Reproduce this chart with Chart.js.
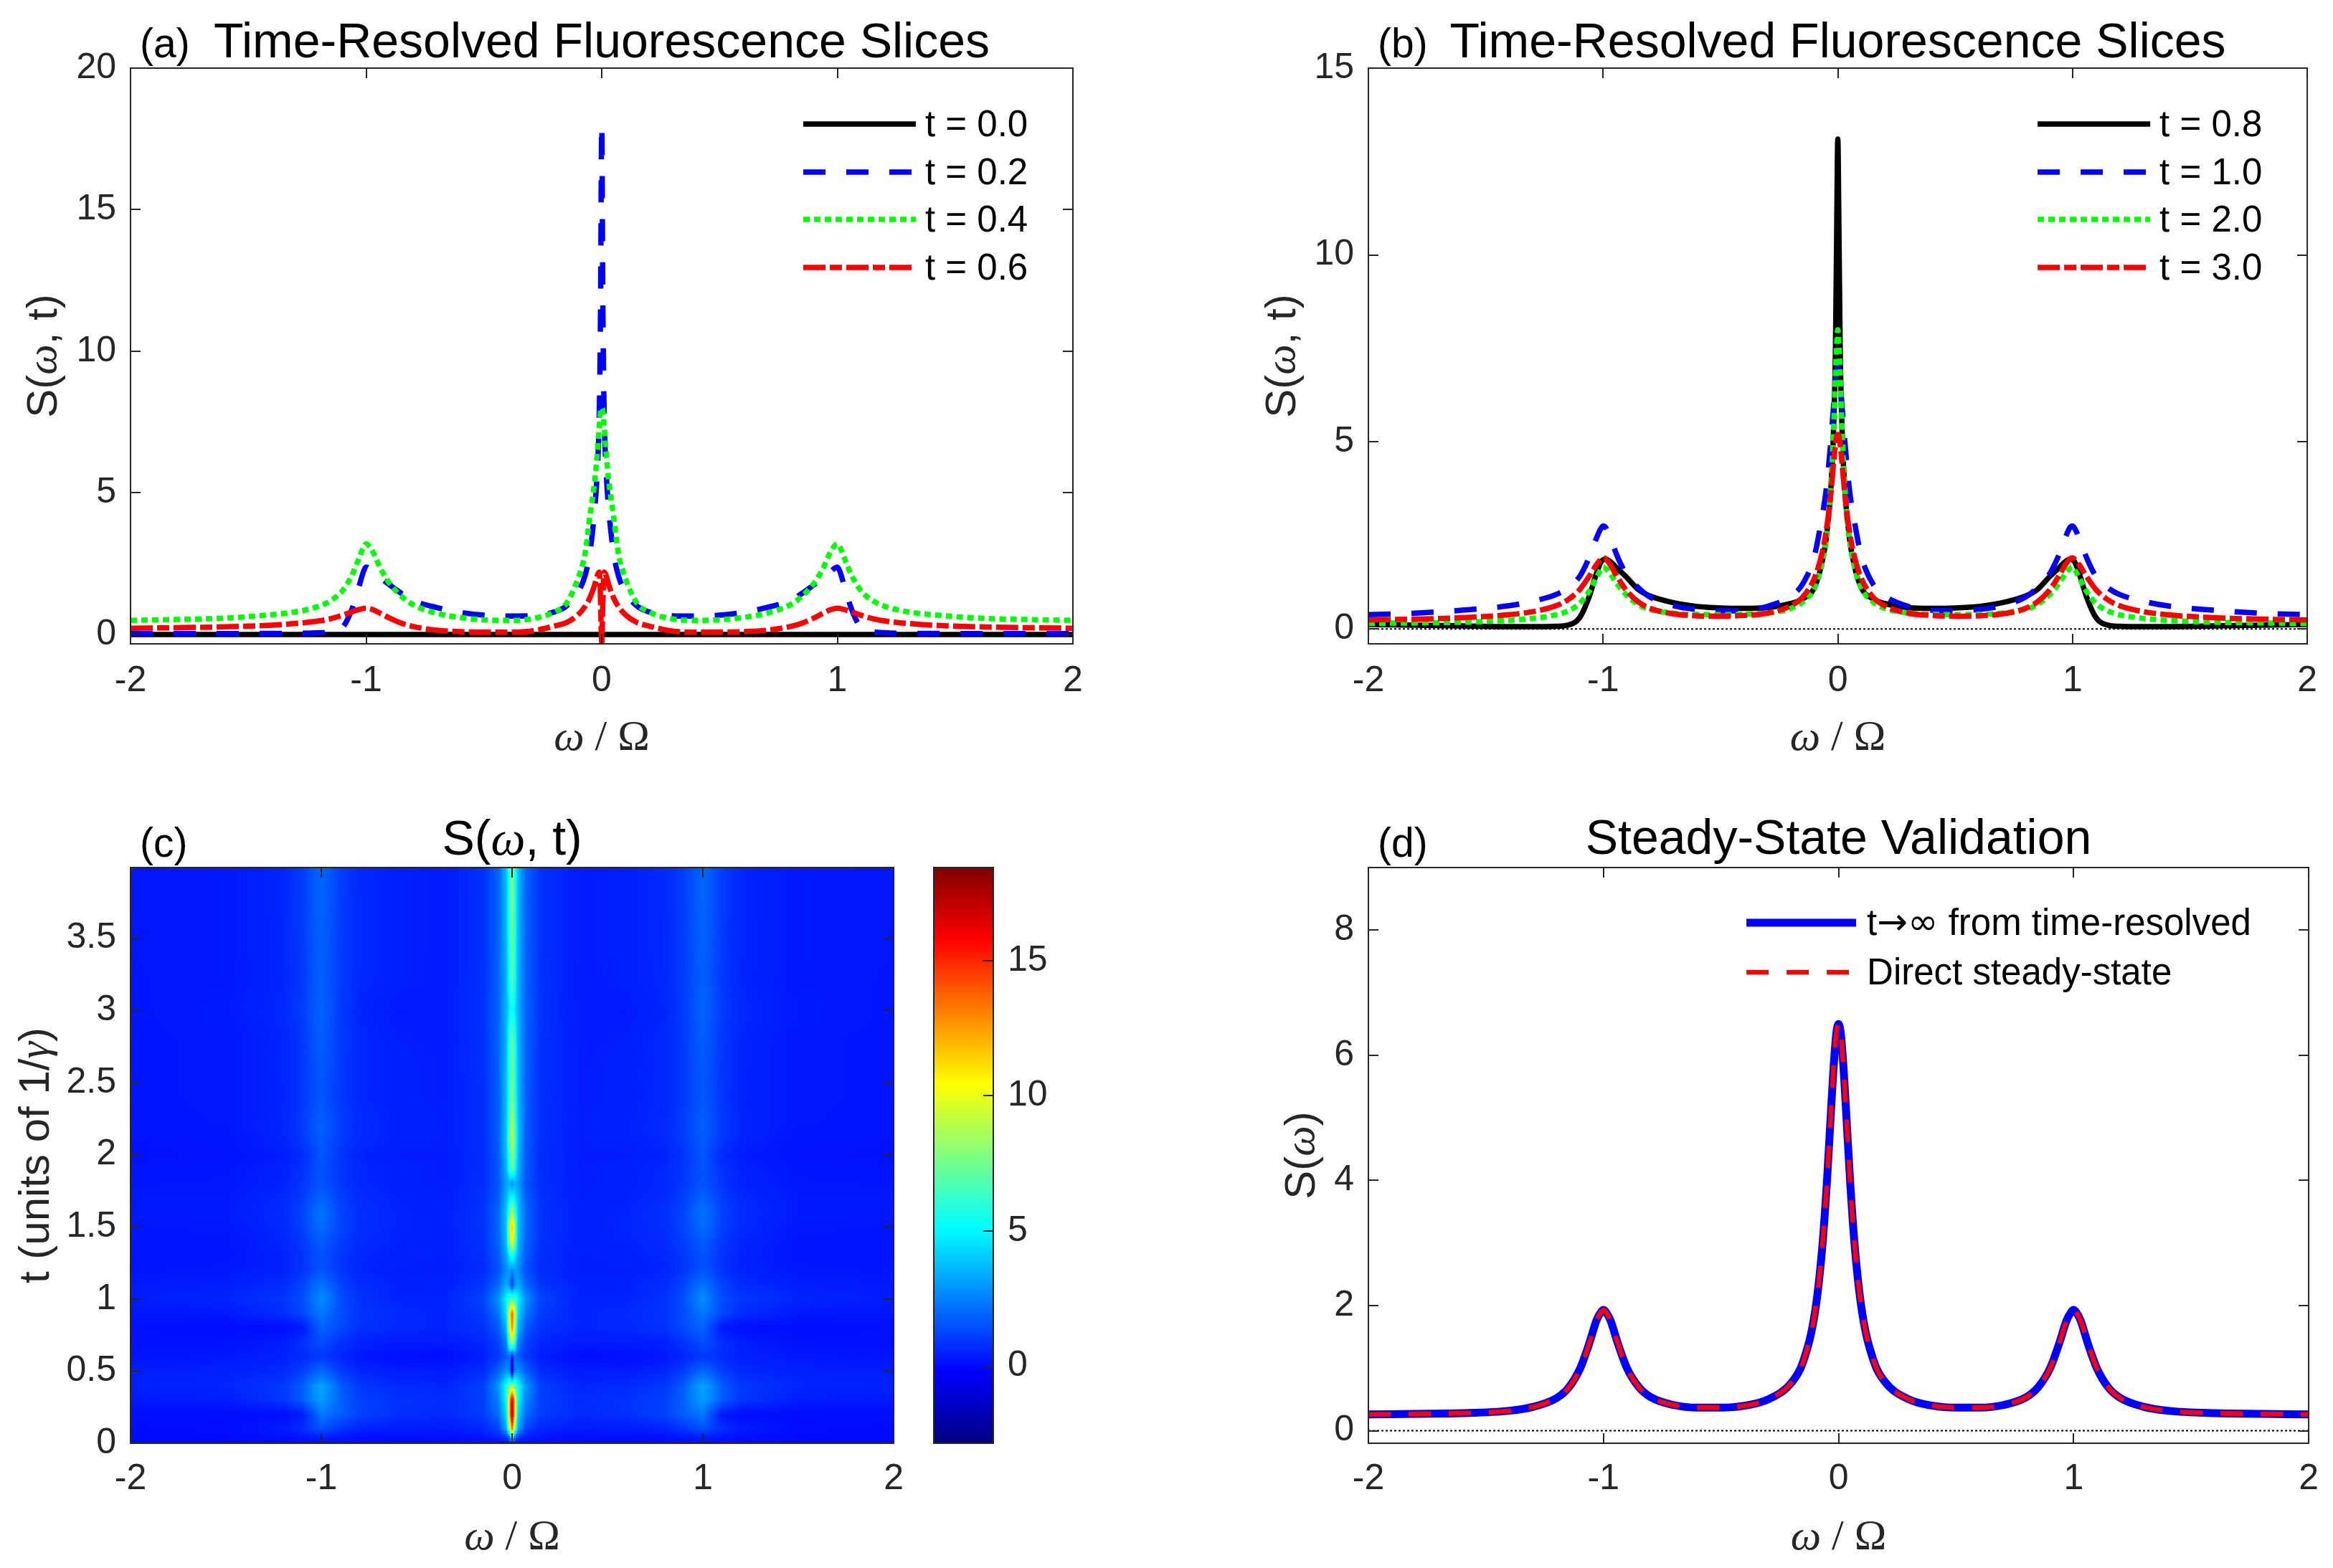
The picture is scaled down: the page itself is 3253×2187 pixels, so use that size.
<!DOCTYPE html>
<html>
<head>
<meta charset="utf-8">
<title>Time-Resolved Fluorescence</title>
<script src="https://cdn.jsdelivr.net/npm/chart.js@4.4.1/dist/chart.umd.min.js"></script>
<style>
  body { margin: 0; background: #fff; }
  #fig { position: relative; width: 3253px; height: 2187px; background: #fff; }
  #fig canvas { position: absolute; }
</style>
</head>
<body>
<div id="fig">
  <canvas id="chartA" width="1626" height="1093" style="left:0;top:0"></canvas>
  <canvas id="chartB" width="1627" height="1093" style="left:1626px;top:0"></canvas>
  <canvas id="chartC" width="1280" height="1094" style="left:0;top:1093px"></canvas>
  <canvas id="chartBar" width="300" height="1094" style="left:1280px;top:1093px"></canvas>
  <canvas id="chartD" width="1627" height="1094" style="left:1626px;top:1093px"></canvas>
</div>
<script>
// frequency grid (omega / Omega) shared by the slice plots
const omega = [-2, -1.8, -1.6, -1.4, -1.3, -1.2, -1.15, -1.1, -1.06, -1.03, -1.01, -1, -0.99, -0.97, -0.94, -0.9, -0.85, -0.8, -0.7, -0.6, -0.5, -0.4, -0.3, -0.2, -0.15, -0.1, -0.07, -0.05, -0.03, -0.02, -0.01, -0.005,
  0, 0.005, 0.01, 0.02, 0.03, 0.05, 0.07, 0.1, 0.15, 0.2, 0.3, 0.4, 0.5, 0.6, 0.7, 0.8, 0.85, 0.9, 0.94, 0.97, 0.99, 1, 1.01, 1.03, 1.06, 1.1, 1.15, 1.2, 1.3, 1.4, 1.6, 1.8, 2];

// (a) early-time slices
const sliceT00 = [0, 0, 0, 0, 0, 0, 0, 0, 0, 0, 0, 0, 0, 0, 0, 0, 0, 0, 0, 0, 0, 0, 0, 0, 0, 0, 0, 0, 0, 0, 0, 0,
  0, 0, 0, 0, 0, 0, 0, 0, 0, 0, 0, 0, 0, 0, 0, 0, 0, 0, 0, 0, 0, 0, 0, 0, 0, 0, 0, 0, 0, 0, 0, 0, 0];
const sliceT02 = [0.03, 0.03, 0.03, 0.04, 0.04, 0.06, 0.1, 0.25, 0.9, 1.7, 2.25, 2.38, 2.35, 2.2, 2.0, 1.75, 1.45, 1.2, 0.95, 0.78, 0.68, 0.65, 0.66, 0.8, 1.0, 1.5, 2.1, 2.9, 4.4, 5.6, 8.0, 11.5,
  18,
  11.5, 8.0, 5.6, 4.4, 2.9, 2.1, 1.5, 1.0, 0.8, 0.66, 0.65, 0.68, 0.78, 0.95, 1.2, 1.45, 1.75, 2.0, 2.2, 2.35, 2.38, 2.25, 1.7, 0.9, 0.25, 0.1, 0.06, 0.04, 0.04, 0.03, 0.03, 0.03];
const sliceT04 = [0.5, 0.53, 0.58, 0.7, 0.8, 1.0, 1.2, 1.55, 2.1, 2.7, 3.1, 3.2, 3.15, 2.9, 2.35, 1.8, 1.35, 1.05, 0.75, 0.6, 0.52, 0.5, 0.55, 0.8, 1.1, 2.0, 2.9, 4.2, 5.4, 6.3, 7.4, 7.9,
  8.0,
  7.9, 7.4, 6.3, 5.4, 4.2, 2.9, 2.0, 1.1, 0.8, 0.55, 0.5, 0.52, 0.6, 0.75, 1.05, 1.35, 1.8, 2.35, 2.9, 3.15, 3.2, 3.1, 2.7, 2.1, 1.55, 1.2, 1.0, 0.8, 0.7, 0.58, 0.53, 0.5];
const sliceT06 = [0.22, 0.24, 0.27, 0.33, 0.39, 0.48, 0.56, 0.68, 0.8, 0.88, 0.92, 0.93, 0.92, 0.87, 0.75, 0.58, 0.4, 0.28, 0.15, 0.1, 0.08, 0.08, 0.12, 0.3, 0.42, 0.7, 1.0, 1.3, 1.75, 2.05, 2.2, 1.2,
  -0.3,
  1.2, 2.2, 2.05, 1.75, 1.3, 1.0, 0.7, 0.42, 0.3, 0.12, 0.08, 0.08, 0.1, 0.15, 0.28, 0.4, 0.58, 0.75, 0.87, 0.92, 0.93, 0.92, 0.88, 0.8, 0.68, 0.56, 0.48, 0.39, 0.33, 0.27, 0.24, 0.22];

// (b) later slices
const sliceT08 = [0.12, 0.1, 0.08, 0.06, 0.06, 0.07, 0.1, 0.3, 0.85, 1.45, 1.78, 1.85, 1.87, 1.8, 1.62, 1.38, 1.05, 0.88, 0.7, 0.6, 0.56, 0.55, 0.57, 0.68, 0.8, 1.1, 1.7, 2.4, 3.7, 5.0, 7.5, 10.5,
  13.1,
  10.5, 7.5, 5.0, 3.7, 2.4, 1.7, 1.1, 0.8, 0.68, 0.57, 0.55, 0.56, 0.6, 0.7, 0.88, 1.05, 1.38, 1.62, 1.8, 1.87, 1.85, 1.78, 1.45, 0.85, 0.3, 0.1, 0.07, 0.06, 0.06, 0.08, 0.1, 0.12];
const sliceT10 = [0.38, 0.42, 0.5, 0.62, 0.74, 0.92, 1.1, 1.4, 1.9, 2.4, 2.68, 2.75, 2.72, 2.45, 1.95, 1.45, 1.1, 0.85, 0.62, 0.52, 0.48, 0.5, 0.6, 0.88, 1.2, 1.95, 2.9, 3.7, 5.0, 5.8, 6.6, 6.9,
  7.0,
  6.9, 6.6, 5.8, 5.0, 3.7, 2.9, 1.95, 1.2, 0.88, 0.6, 0.5, 0.48, 0.52, 0.62, 0.85, 1.1, 1.45, 1.95, 2.45, 2.72, 2.75, 2.68, 2.4, 1.9, 1.4, 1.1, 0.92, 0.74, 0.62, 0.5, 0.42, 0.38];
const sliceT20 = [0.15, 0.16, 0.18, 0.23, 0.28, 0.38, 0.48, 0.68, 1.0, 1.35, 1.58, 1.65, 1.62, 1.48, 1.2, 0.9, 0.65, 0.52, 0.42, 0.39, 0.38, 0.39, 0.42, 0.55, 0.72, 1.1, 1.7, 2.4, 3.8, 5.0, 6.8, 7.6,
  8.0,
  7.6, 6.8, 5.0, 3.8, 2.4, 1.7, 1.1, 0.72, 0.55, 0.42, 0.39, 0.38, 0.39, 0.42, 0.52, 0.65, 0.9, 1.2, 1.48, 1.62, 1.65, 1.58, 1.35, 1.0, 0.68, 0.48, 0.38, 0.28, 0.23, 0.18, 0.16, 0.15];
const sliceT30 = [0.24, 0.26, 0.3, 0.38, 0.46, 0.62, 0.78, 1.05, 1.4, 1.7, 1.86, 1.9, 1.88, 1.72, 1.4, 1.02, 0.72, 0.55, 0.4, 0.35, 0.34, 0.36, 0.42, 0.62, 0.85, 1.35, 1.95, 2.6, 3.6, 4.3, 4.95, 5.15,
  5.2,
  5.15, 4.95, 4.3, 3.6, 2.6, 1.95, 1.35, 0.85, 0.62, 0.42, 0.36, 0.34, 0.35, 0.4, 0.55, 0.72, 1.02, 1.4, 1.72, 1.88, 1.9, 1.86, 1.7, 1.4, 1.05, 0.78, 0.62, 0.46, 0.38, 0.3, 0.26, 0.24];

// (d) steady state
const steadyFromTime = [0.26, 0.27, 0.28, 0.32, 0.38, 0.52, 0.68, 0.99, 1.4, 1.76, 1.9, 1.93, 1.9, 1.76, 1.41, 1.0, 0.7, 0.54, 0.41, 0.37, 0.37, 0.4, 0.5, 0.77, 1.11, 1.9, 2.9, 3.94, 5.25, 5.87, 6.33, 6.46,
  6.5,
  6.46, 6.33, 5.87, 5.25, 3.94, 2.9, 1.9, 1.11, 0.77, 0.5, 0.4, 0.37, 0.37, 0.41, 0.54, 0.7, 1.0, 1.41, 1.76, 1.9, 1.93, 1.9, 1.76, 1.4, 0.99, 0.68, 0.52, 0.38, 0.32, 0.28, 0.27, 0.26];
const steadyDirect = [0.26, 0.27, 0.28, 0.32, 0.38, 0.52, 0.68, 0.99, 1.4, 1.76, 1.9, 1.93, 1.9, 1.76, 1.41, 1.0, 0.7, 0.54, 0.41, 0.37, 0.37, 0.4, 0.5, 0.77, 1.11, 1.9, 2.9, 3.94, 5.25, 5.87, 6.33, 6.46,
  6.5,
  6.46, 6.33, 5.87, 5.25, 3.94, 2.9, 1.9, 1.11, 0.77, 0.5, 0.4, 0.37, 0.37, 0.41, 0.54, 0.7, 1.0, 1.41, 1.76, 1.9, 1.93, 1.9, 1.76, 1.4, 0.99, 0.68, 0.52, 0.38, 0.32, 0.28, 0.27, 0.26];

// dotted zero reference line
const zeroX = [-2, 2];
const zeroY = [0, 0];

// (c) spectrogram S(omega, t): columns = heatW, rows = heatT
const heatW = [-2, -1.5, -1.2, -1.1, -1.04, -1, -0.96, -0.9, -0.8, -0.6, -0.35, -0.15, -0.07, -0.03, -0.01, 0, 0.01, 0.03, 0.07, 0.15, 0.35, 0.6, 0.8, 0.9, 0.96, 1, 1.04, 1.1, 1.2, 1.5, 2];
const heatT = [0, 0.05, 0.1, 0.2, 0.3, 0.4, 0.5, 0.6, 0.7, 0.8, 0.9, 1.0, 1.1, 1.2, 1.3, 1.4, 1.5, 1.6, 1.7, 1.8, 1.9, 2.0, 2.1, 2.2, 2.4, 2.6, 2.8, 3.0, 3.2, 3.4, 3.6, 3.8, 3.99];
const heatS = [
  [0, 0, 0, 0, 0, 0, 0, 0, 0, 0, 0, 0, 0, 0, 0, 0, 0, 0, 0, 0, 0, 0, 0, 0, 0, 0, 0, 0, 0, 0, 0],
  [0, 0.02, 0.14, 0.28, 0.47, 0.55, 0.47, 0.33, 0.19, 0.13, 0.15, 0.3, 0.6, 1.2, 3, 9, 3, 1.2, 0.6, 0.3, 0.15, 0.13, 0.19, 0.33, 0.47, 0.55, 0.47, 0.28, 0.14, 0.02, 0],
  [0.02, 0.06, 0.38, 0.75, 1.24, 1.46, 1.24, 0.89, 0.52, 0.37, 0.35, 0.6, 1.2, 3.5, 9, 14, 9, 3.5, 1.2, 0.6, 0.35, 0.37, 0.52, 0.89, 1.24, 1.46, 1.24, 0.75, 0.38, 0.06, 0.02],
  [0.05, 0.04, 0.06, 0.3, 1.4, 2.35, 2.1, 1.75, 1.2, 0.78, 0.65, 1.05, 2.1, 4.4, 13, 18, 13, 4.4, 2.1, 1.05, 0.65, 0.78, 1.2, 1.75, 2.1, 2.35, 1.4, 0.3, 0.06, 0.04, 0.05],
  [0.3, 0.38, 0.94, 1.67, 2.66, 3.1, 2.66, 1.87, 1.14, 0.83, 0.7, 1.1, 2.6, 5.2, 13, 17, 13, 5.2, 2.6, 1.1, 0.7, 0.83, 1.14, 1.87, 2.66, 3.1, 2.66, 1.67, 0.94, 0.38, 0.3],
  [0.5, 0.58, 0.96, 1.72, 2.74, 3.2, 2.74, 1.72, 0.96, 0.64, 0.55, 1.1, 3.0, 5.4, 7.4, 8, 7.4, 5.4, 3.0, 1.1, 0.55, 0.64, 0.96, 1.72, 2.74, 3.2, 2.74, 1.72, 0.96, 0.58, 0.5],
  [0.4, 0.45, 0.62, 1.07, 1.68, 1.95, 1.68, 1.02, 0.57, 0.38, 0.35, 0.7, 1.8, 3.0, 2.5, -2.5, 2.5, 3.0, 1.8, 0.7, 0.35, 0.38, 0.57, 1.02, 1.68, 1.95, 1.68, 1.07, 0.62, 0.45, 0.4],
  [0.22, 0.3, 0.48, 0.68, 0.86, 0.93, 0.82, 0.58, 0.28, 0.1, 0.09, 0.42, 1.0, 1.75, 2.2, -0.3, 2.2, 1.75, 1.0, 0.42, 0.09, 0.1, 0.28, 0.58, 0.82, 0.93, 0.86, 0.68, 0.48, 0.3, 0.22],
  [0.12, 0.16, 0.41, 0.75, 1.21, 1.41, 1.21, 0.84, 0.5, 0.36, 0.35, 0.6, 1.2, 2.6, 7, 9, 7, 2.6, 1.2, 0.6, 0.35, 0.36, 0.5, 0.84, 1.21, 1.41, 1.21, 0.75, 0.41, 0.16, 0.12],
  [0.12, 0.07, 0.08, 0.3, 1.2, 1.85, 1.7, 1.35, 0.82, 0.6, 0.56, 0.8, 1.7, 3.7, 10, 13.1, 10, 3.7, 1.7, 0.8, 0.56, 0.6, 0.82, 1.35, 1.7, 1.85, 1.2, 0.3, 0.08, 0.07, 0.12],
  [0.25, 0.31, 0.72, 1.26, 1.98, 2.3, 1.98, 1.41, 0.87, 0.65, 0.5, 1.0, 2.3, 4.5, 11, 14, 11, 4.5, 2.3, 1.0, 0.5, 0.65, 0.87, 1.41, 1.98, 2.3, 1.98, 1.26, 0.72, 0.31, 0.25],
  [0.38, 0.55, 0.92, 1.4, 2.2, 2.75, 2.3, 1.45, 0.82, 0.5, 0.52, 1.2, 2.9, 5.0, 6.6, 7.0, 6.6, 5.0, 2.9, 1.2, 0.52, 0.5, 0.82, 1.45, 2.3, 2.75, 2.2, 1.4, 0.92, 0.55, 0.38],
  [0.35, 0.4, 0.68, 1.19, 1.87, 2.18, 1.87, 1.21, 0.71, 0.49, 0.45, 0.9, 2.0, 3.5, 2.5, 0.5, 2.5, 3.5, 2.0, 0.9, 0.45, 0.49, 0.71, 1.21, 1.87, 2.18, 1.87, 1.19, 0.68, 0.4, 0.35],
  [0.25, 0.29, 0.5, 0.84, 1.3, 1.5, 1.3, 0.89, 0.55, 0.41, 0.4, 0.7, 1.5, 2.8, 3.2, 2.5, 3.2, 2.8, 1.5, 0.7, 0.4, 0.41, 0.55, 0.89, 1.3, 1.5, 1.3, 0.84, 0.5, 0.29, 0.25],
  [0.2, 0.24, 0.5, 0.84, 1.3, 1.5, 1.3, 0.94, 0.6, 0.46, 0.42, 0.75, 1.7, 3.3, 5, 6, 5, 3.3, 1.7, 0.75, 0.42, 0.46, 0.6, 0.94, 1.3, 1.5, 1.3, 0.84, 0.5, 0.24, 0.2],
  [0.2, 0.24, 0.57, 0.96, 1.49, 1.73, 1.49, 1.08, 0.69, 0.52, 0.45, 0.8, 1.9, 3.8, 8.5, 10.5, 8.5, 3.8, 1.9, 0.8, 0.45, 0.52, 0.69, 1.08, 1.49, 1.73, 1.49, 0.96, 0.57, 0.24, 0.2],
  [0.25, 0.3, 0.64, 1.12, 1.76, 2.05, 1.76, 1.22, 0.74, 0.54, 0.45, 0.85, 2.0, 4.0, 9.5, 12, 9.5, 4.0, 2.0, 0.85, 0.45, 0.54, 0.74, 1.22, 1.76, 2.05, 1.76, 1.12, 0.64, 0.3, 0.25],
  [0.3, 0.35, 0.68, 1.19, 1.87, 2.18, 1.87, 1.26, 0.76, 0.54, 0.45, 0.85, 2.0, 4.0, 7, 9, 7, 4.0, 2.0, 0.85, 0.45, 0.54, 0.76, 1.26, 1.87, 2.18, 1.87, 1.19, 0.68, 0.35, 0.3],
  [0.3, 0.35, 0.62, 1.04, 1.61, 1.86, 1.61, 1.1, 0.68, 0.5, 0.42, 0.8, 1.8, 3.6, 5, 5.5, 5, 3.6, 1.8, 0.8, 0.42, 0.5, 0.68, 1.1, 1.61, 1.86, 1.61, 1.04, 0.62, 0.35, 0.3],
  [0.25, 0.29, 0.53, 0.87, 1.33, 1.53, 1.33, 0.94, 0.6, 0.46, 0.4, 0.75, 1.6, 3.2, 3.5, 2.5, 3.5, 3.2, 1.6, 0.75, 0.4, 0.46, 0.6, 0.94, 1.33, 1.53, 1.33, 0.87, 0.53, 0.29, 0.25],
  [0.2, 0.24, 0.5, 0.84, 1.3, 1.5, 1.3, 0.94, 0.6, 0.46, 0.4, 0.72, 1.7, 3.6, 6, 7.5, 6, 3.6, 1.7, 0.72, 0.4, 0.46, 0.6, 0.94, 1.3, 1.5, 1.3, 0.84, 0.5, 0.24, 0.2],
  [0.15, 0.2, 0.38, 0.68, 1.2, 1.65, 1.35, 0.9, 0.52, 0.39, 0.4, 0.72, 1.7, 3.8, 6.8, 8.0, 6.8, 3.8, 1.7, 0.72, 0.4, 0.39, 0.52, 0.9, 1.35, 1.65, 1.2, 0.68, 0.38, 0.2, 0.15],
  [0.18, 0.22, 0.53, 0.92, 1.45, 1.69, 1.45, 1.03, 0.64, 0.47, 0.42, 0.75, 1.8, 4.0, 7.5, 9.5, 7.5, 4.0, 1.8, 0.75, 0.42, 0.47, 0.64, 1.03, 1.45, 1.69, 1.45, 0.92, 0.53, 0.22, 0.18],
  [0.22, 0.27, 0.57, 0.99, 1.56, 1.81, 1.56, 1.08, 0.66, 0.48, 0.42, 0.75, 1.8, 4.0, 7.2, 9, 7.2, 4.0, 1.8, 0.75, 0.42, 0.48, 0.66, 1.08, 1.56, 1.81, 1.56, 0.99, 0.57, 0.27, 0.22],
  [0.24, 0.28, 0.53, 0.9, 1.39, 1.61, 1.39, 0.97, 0.6, 0.45, 0.4, 0.75, 1.8, 3.8, 6.5, 7.8, 6.5, 3.8, 1.8, 0.75, 0.4, 0.45, 0.6, 0.97, 1.39, 1.61, 1.39, 0.9, 0.53, 0.28, 0.24],
  [0.24, 0.28, 0.54, 0.92, 1.43, 1.66, 1.43, 0.99, 0.61, 0.45, 0.4, 0.78, 1.85, 3.8, 6.4, 7.5, 6.4, 3.8, 1.85, 0.78, 0.4, 0.45, 0.61, 0.99, 1.43, 1.66, 1.43, 0.92, 0.54, 0.28, 0.24],
  [0.24, 0.28, 0.55, 0.95, 1.5, 1.75, 1.5, 1.01, 0.61, 0.43, 0.38, 0.8, 1.9, 3.7, 6.2, 7.2, 6.2, 3.7, 1.9, 0.8, 0.38, 0.43, 0.61, 1.01, 1.5, 1.75, 1.5, 0.95, 0.55, 0.28, 0.24],
  [0.24, 0.34, 0.62, 1.05, 1.6, 1.9, 1.6, 1.02, 0.55, 0.35, 0.38, 0.85, 1.95, 3.6, 4.95, 5.6, 4.95, 3.6, 1.95, 0.85, 0.38, 0.35, 0.55, 1.02, 1.6, 1.9, 1.6, 1.05, 0.62, 0.34, 0.24],
  [0.25, 0.3, 0.56, 0.98, 1.55, 1.8, 1.55, 1.04, 0.62, 0.44, 0.37, 0.82, 1.9, 3.6, 5.8, 7, 5.8, 3.6, 1.9, 0.82, 0.37, 0.44, 0.62, 1.04, 1.55, 1.8, 1.55, 0.98, 0.56, 0.3, 0.25],
  [0.26, 0.31, 0.58, 1.0, 1.57, 1.82, 1.57, 1.05, 0.63, 0.45, 0.38, 0.8, 1.9, 3.7, 6, 7.5, 6, 3.7, 1.9, 0.8, 0.38, 0.45, 0.63, 1.05, 1.57, 1.82, 1.57, 1.0, 0.58, 0.31, 0.26],
  [0.26, 0.31, 0.58, 1.02, 1.6, 1.87, 1.6, 1.07, 0.63, 0.45, 0.38, 0.8, 1.9, 3.8, 6.2, 8, 6.2, 3.8, 1.9, 0.8, 0.38, 0.45, 0.63, 1.07, 1.6, 1.87, 1.6, 1.02, 0.58, 0.31, 0.26],
  [0.26, 0.31, 0.59, 1.04, 1.65, 1.92, 1.65, 1.09, 0.64, 0.45, 0.38, 0.8, 1.9, 3.8, 6.3, 8, 6.3, 3.8, 1.9, 0.8, 0.38, 0.45, 0.64, 1.09, 1.65, 1.92, 1.65, 1.04, 0.59, 0.31, 0.26],
  [0.26, 0.31, 0.59, 1.04, 1.65, 1.92, 1.65, 1.09, 0.64, 0.45, 0.38, 0.8, 1.9, 3.9, 6.4, 8.2, 6.4, 3.9, 1.9, 0.8, 0.38, 0.45, 0.64, 1.09, 1.65, 1.92, 1.65, 1.04, 0.59, 0.31, 0.26]
];
const cLim = [-2.85, 18.44];

const SANS = "'Liberation Sans', Arial, Helvetica, sans-serif";
const SERIF = "'Liberation Serif', 'Times New Roman', serif";
const SYMB = "'DejaVu Sans', sans-serif";
const INK = '#262626';
const TICK = 14;
const TICK_FONT = 50;

Chart.defaults.font.family = SANS;
Chart.defaults.color = INK;

// matlab-like jet colormap
function jet(f) {
  f = Math.min(1, Math.max(0, f));
  const c = k => Math.round(255 * Math.min(1, Math.max(0, 1.5 - Math.abs(4 * f - k))));
  return 'rgb(' + c(3) + ',' + c(2) + ',' + c(1) + ')';
}

// text made of several runs with different fonts
function rich(ctx, parts, x, y, align, base, angle, color) {
  ctx.save();
  ctx.translate(x, y);
  ctx.rotate(angle);
  ctx.fillStyle = color;
  ctx.textBaseline = base;
  ctx.textAlign = 'left';
  let w = 0;
  parts.forEach(p => { ctx.font = p[1]; w += ctx.measureText(p[0]).width; });
  let cx = align === 'center' ? -w / 2 : 0;
  parts.forEach(p => { ctx.font = p[1]; ctx.fillText(p[0], cx, 0); cx += ctx.measureText(p[0]).width; });
  ctx.restore();
}

function drawHeat(chart) {
  const { ctx, chartArea: a, scales: { x, y } } = chart;
  const span = cLim[1] - cLim[0];
  ctx.save();
  ctx.beginPath();
  ctx.rect(a.left, a.top, a.width, a.height);
  ctx.clip();
  for (let r = 0; r < heatT.length - 1; r++) {
    const ya = y.getPixelForValue(heatT[r]), yb = y.getPixelForValue(heatT[r + 1]);
    const ny = Math.max(1, Math.round(Math.abs(ya - yb) / 3));
    for (let c = 0; c < heatW.length - 1; c++) {
      const xa = x.getPixelForValue(heatW[c]), xb = x.getPixelForValue(heatW[c + 1]);
      const nx = Math.max(1, Math.round((xb - xa) / ((xb - xa) < 20 ? 1 : 2)));
      const v00 = heatS[r][c], v01 = heatS[r][c + 1], v10 = heatS[r + 1][c], v11 = heatS[r + 1][c + 1];
      for (let j = 0; j < ny; j++) {
        const p0 = Math.round(ya + (yb - ya) * j / ny), p1 = Math.round(ya + (yb - ya) * (j + 1) / ny);
        const w = (j + 0.5) / ny;
        for (let i = 0; i < nx; i++) {
          const q0 = Math.round(xa + (xb - xa) * i / nx), q1 = Math.round(xa + (xb - xa) * (i + 1) / nx);
          const u = (i + 0.5) / nx;
          const v = (v00 * (1 - u) + v01 * u) * (1 - w) + (v10 * (1 - u) + v11 * u) * w;
          ctx.fillStyle = jet((v - cLim[0]) / span);
          ctx.fillRect(q0, Math.min(p0, p1), q1 - q0, Math.abs(p1 - p0));
        }
      }
    }
  }
  ctx.restore();
}

function drawBar(chart) {
  const { ctx, chartArea: a, scales: { y } } = chart;
  for (let py = Math.floor(a.top); py < a.bottom; py++) {
    const v = y.getValueForPixel(py + 0.5);
    ctx.fillStyle = jet((v - cLim[0]) / (cLim[1] - cLim[0]));
    ctx.fillRect(a.left, py, a.width, 1);
  }
}

// axes box, inward ticks, titles, labels, legend
function frame(cfg) {
  return {
    id: 'frame',
    beforeDatasetsDraw(chart) {
      if (cfg.heat) drawHeat(chart);
      if (cfg.bar) drawBar(chart);
    },
    afterDatasetsDraw(chart) {
      const { ctx, chartArea: a, scales } = chart;
      const seg = (x0, y0, x1, y1) => { ctx.beginPath(); ctx.moveTo(x0, y0); ctx.lineTo(x1, y1); ctx.stroke(); };
      ctx.save();
      ctx.strokeStyle = INK;
      ctx.lineWidth = 2;
      if (!cfg.bar) {
        scales.x.ticks.forEach(t => {
          const p = Math.round(scales.x.getPixelForValue(t.value));
          seg(p, a.bottom, p, a.bottom - TICK);
          seg(p, a.top, p, a.top + TICK);
        });
      }
      scales.y.ticks.forEach(t => {
        const p = Math.round(scales.y.getPixelForValue(t.value));
        if (!cfg.bar) seg(a.left, p, a.left + TICK, p);
        seg(a.right, p, a.right - TICK, p);
      });
      ctx.strokeRect(a.left, a.top, a.width, a.height);

      const midX = (a.left + a.right) / 2;
      if (cfg.tag) rich(ctx, [[cfg.tag, '57px ' + SANS]], a.left + 13, a.top - 15, 'left', 'alphabetic', 0, '#000');
      if (cfg.title) rich(ctx, cfg.title, midX, a.top - cfg.titleDY, 'center', 'alphabetic', 0, '#000');
      if (cfg.xlabel) rich(ctx, cfg.xlabel, midX, a.bottom + 148, 'center', 'alphabetic', 0, INK);
      if (cfg.ylabel) rich(ctx, cfg.ylabel, cfg.ylabelX, (a.top + a.bottom) / 2, 'center', 'middle', -Math.PI / 2, INK);

      if (cfg.legend) {
        const L = cfg.legend;
        chart.data.datasets.filter(d => d.label).forEach((d, i) => {
          const y = a.top + L.rows[i];
          ctx.save();
          ctx.strokeStyle = d.borderColor;
          ctx.lineWidth = d.borderWidth;
          ctx.lineCap = 'butt';
          ctx.setLineDash(d.borderDash || []);
          seg(a.right - L.x0, y, a.right - L.x1, y);
          ctx.restore();
          const parts = d.labelParts || [[d.label, '51px ' + SANS]];
          rich(ctx, parts, a.right - L.tx, y + 3, 'left', 'middle', 0, '#000');
        });
      }
      ctx.restore();
    }
  };
}

const tickText = v => String(Math.round(v * 100) / 100);

function xAxis(height, pad) {
  return {
    type: 'linear', min: -2, max: 2,
    ticks: { stepSize: 1, padding: pad, maxRotation: 0, includeBounds: false, font: { size: TICK_FONT }, color: INK, callback: tickText },
    grid: { display: false, drawTicks: false },
    border: { display: false },
    afterFit: s => { s.height = height; }
  };
}

function yAxis(width, min, max, step, position) {
  return {
    type: 'linear', min: min, max: max, position: position || 'left',
    ticks: { stepSize: step, padding: 20, includeBounds: false, font: { size: TICK_FONT }, color: INK, callback: tickText },
    grid: { display: false, drawTicks: false },
    border: { display: false },
    afterFit: s => { s.width = width; }
  };
}

function curve(label, xs, ys, color, width, dash, order) {
  return {
    label: label,
    data: xs.map((w, i) => ({ x: w, y: ys[i] })),
    borderColor: color,
    borderWidth: width,
    borderDash: dash,
    borderJoinStyle: 'round',
    cubicInterpolationMode: 'monotone',
    pointRadius: 0,
    fill: false,
    clip: 0,
    order: order
  };
}

const baseOptions = {
  responsive: false,
  animation: false,
  devicePixelRatio: 1,
  events: [],
  plugins: { legend: { display: false }, tooltip: { enabled: false } }
};

const sans60 = '60px ' + SANS, serifIt60 = 'italic 60px ' + SERIF, serif60 = '60px ' + SERIF;
const sans68 = '68px ' + SANS, serifIt68 = 'italic 68px ' + SERIF;
const sans51 = '51px ' + SANS;
const omegaLabel = [['ω', serifIt60], [' / Ω', serif60]];
const sLabel = [['S(', sans60], ['ω', serifIt60], [', t)', sans60]];
const sliceTitle = [['Time-Resolved Fluorescence Slices', sans68]];
const sliceLegend = { x0: 376, x1: 219, tx: 206, rows: [78, 145, 211, 278] };

const DASH = [31, 29], DOT = [9, 6], DASHDOT = [31, 6, 17, 6];

// (a)
new Chart(document.getElementById('chartA'), {
  type: 'line',
  data: {
    datasets: [
      curve(null, zeroX, zeroY, '#000000', 2, [3, 3], 10),
      curve('t = 0.0', omega, sliceT00, '#000000', 7.5, [], 4),
      curve('t = 0.2', omega, sliceT02, '#0000ff', 7.5, DASH, 3),
      curve('t = 0.4', omega, sliceT04, '#00ff00', 7.5, DOT, 2),
      curve('t = 0.6', omega, sliceT06, '#ff0000', 7.5, DASHDOT, 1)
    ]
  },
  options: Object.assign({}, baseOptions, {
    layout: { padding: { left: 0, right: 130, top: 95, bottom: 0 } },
    scales: { x: xAxis(195, 22), y: yAxis(182, -0.33, 20, 5) }
  }),
  plugins: [frame({ tag: '(a)', title: sliceTitle, titleDY: 15, xlabel: omegaLabel, ylabel: sLabel, ylabelX: 62, legend: sliceLegend })]
});

// (b)
new Chart(document.getElementById('chartB'), {
  type: 'line',
  data: {
    datasets: [
      curve(null, zeroX, zeroY, '#000000', 2, [3, 3], 10),
      curve('t = 0.8', omega, sliceT08, '#000000', 7.5, [], 4),
      curve('t = 1.0', omega, sliceT10, '#0000ff', 7.5, DASH, 3),
      curve('t = 2.0', omega, sliceT20, '#00ff00', 7.5, DOT, 2),
      curve('t = 3.0', omega, sliceT30, '#ff0000', 7.5, DASHDOT, 1)
    ]
  },
  options: Object.assign({}, baseOptions, {
    layout: { padding: { left: 0, right: 32, top: 95, bottom: 0 } },
    scales: { x: xAxis(195, 22), y: yAxis(282, -0.4, 15, 5) }
  }),
  plugins: [frame({ tag: '(b)', title: sliceTitle, titleDY: 15, xlabel: omegaLabel, ylabel: sLabel, ylabelX: 163, legend: sliceLegend })]
});

// (c) spectrogram
new Chart(document.getElementById('chartC'), {
  type: 'scatter',
  data: { datasets: [] },
  options: Object.assign({}, baseOptions, {
    layout: { padding: { left: 0, right: 32, top: 117, bottom: 0 } },
    scales: { x: xAxis(174, 20), y: yAxis(182, 0, 3.99, 0.5) }
  }),
  plugins: [frame({
    heat: true, tag: '(c)',
    title: [['S(', sans68], ['ω', serifIt68], [', t)', sans68]], titleDY: 18,
    xlabel: omegaLabel,
    ylabel: [['t (units of 1/', sans60], ['γ', serifIt60], [')', sans60]], ylabelX: 51
  })]
});

// colorbar
new Chart(document.getElementById('chartBar'), {
  type: 'scatter',
  data: { datasets: [] },
  options: Object.assign({}, baseOptions, {
    layout: { padding: { left: 22, right: 0, top: 117, bottom: 174 } },
    scales: {
      x: { type: 'linear', display: false, min: 0, max: 1 },
      y: yAxis(195, cLim[0], cLim[1], 5, 'right')
    }
  }),
  plugins: [frame({ bar: true })]
});

// (d)
const steadyA = curve('t→∞ from time-resolved', omega, steadyFromTime, '#0000ff', 11, [], 2);
steadyA.labelParts = [['t', sans51], ['→∞', '51px ' + SYMB], [' from time-resolved', sans51]];
new Chart(document.getElementById('chartD'), {
  type: 'line',
  data: {
    datasets: [
      curve(null, zeroX, zeroY, '#000000', 2, [3, 3], 10),
      steadyA,
      curve('Direct steady-state', omega, steadyDirect, '#ff0000', 6.5, [31, 25], 1)
    ]
  },
  options: Object.assign({}, baseOptions, {
    layout: { padding: { left: 0, right: 32, top: 117, bottom: 0 } },
    scales: { x: xAxis(174, 20), y: yAxis(282, -0.2, 9, 2) }
  }),
  plugins: [frame({
    tag: '(d)', title: [['Steady-State Validation', sans68]], titleDY: 19,
    xlabel: omegaLabel,
    ylabel: [['S(', sans60], ['ω', serifIt60], [')', sans60]], ylabelX: 190,
    legend: { x0: 784, x1: 631, tx: 616, rows: [77, 146] }
  })]
});
</script>
</body>
</html>
